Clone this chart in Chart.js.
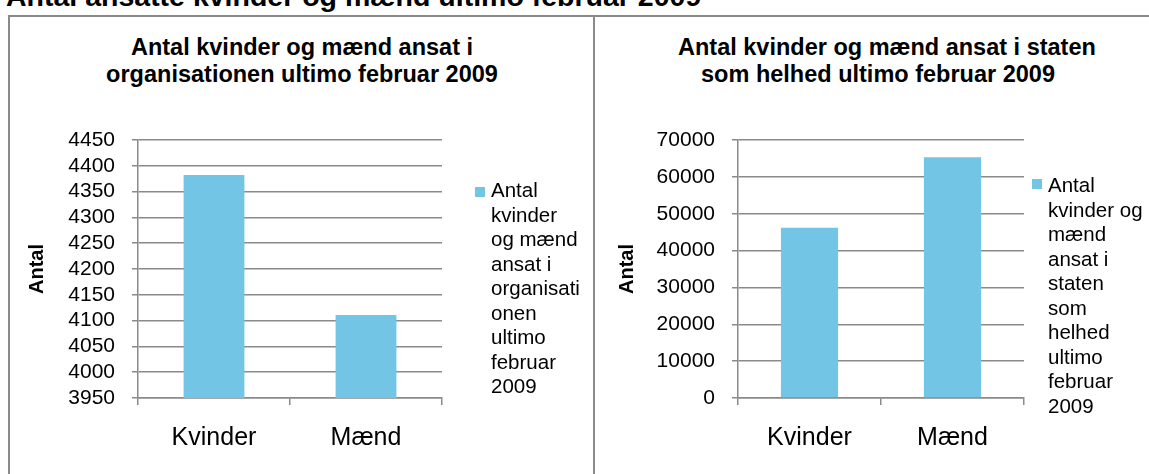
<!DOCTYPE html>
<html>
<head>
<meta charset="utf-8">
<script src="https://cdn.jsdelivr.net/npm/chart.js@4.4.1/dist/chart.umd.min.js"></script>
<style>
  body { margin: 0; width: 1149px; height: 474px; overflow: hidden; position: relative; background: #fff;
         font-family: "Liberation Sans", Arial, sans-serif; color: #000; }
  .abs { position: absolute; }
  .line { position: absolute; background: #8a8a8a; }
  .ctitle { position: absolute; font-weight: bold; font-size: 23.5px; line-height: 27px; text-align: center; white-space: nowrap; }
  .legend { position: absolute; font-size: 20.5px; line-height: 24.5px; white-space: nowrap; }
  .swatch { position: absolute; width: 10px; height: 10px; background: #72c5e5; }
</style>
</head>
<body>
<div id="pageTitle" class="abs" style="left:6px;top:-18px;font-weight:bold;font-size:28.5px;line-height:28.5px;white-space:nowrap">Antal ansatte kvinder og mænd ultimo februar 2009</div>

<div class="line" style="left:9px;top:15px;width:1140px;height:2px"></div>
<div class="line" style="left:8px;top:15px;width:2px;height:459px"></div>
<div class="line" style="left:593px;top:15px;width:2px;height:459px"></div>

<div id="orgTitle" class="ctitle" style="left:102px;width:400px;top:34px"></div>
<div id="stateTitle" class="ctitle" style="left:678px;width:400px;top:34px"></div>

<canvas id="orgChart" class="abs" width="593" height="474" style="left:0;top:0"></canvas>
<canvas id="stateChart" class="abs" width="554" height="474" style="left:595px;top:0"></canvas>

<div class="swatch" style="left:475px;top:187px"></div>
<div id="orgLegend" class="legend" style="left:491px;top:178px"></div>
<div class="swatch" style="left:1032px;top:179px"></div>
<div id="stateLegend" class="legend" style="left:1048px;top:173px"></div>

<script>
const categories = ['Kvinder', 'Mænd'];

const orgTitle = ['Antal kvinder og mænd ansat i', 'organisationen ultimo februar 2009'];
const orgValues = [4382, 4111];
const orgTicks = [3950, 4000, 4050, 4100, 4150, 4200, 4250, 4300, 4350, 4400, 4450];
const orgLegend = ['Antal', 'kvinder', 'og mænd', 'ansat i', 'organisati', 'onen', 'ultimo', 'februar', '2009'];

const stateTitle = ['Antal kvinder og mænd ansat i staten', 'som helhed ultimo februar 2009'];
const stateValues = [46200, 65300];
const stateTicks = [0, 10000, 20000, 30000, 40000, 50000, 60000, 70000];
const stateLegend = ['Antal', 'kvinder og', 'mænd', 'ansat i', 'staten', 'som', 'helhed', 'ultimo', 'februar', '2009'];

const barColor = '#72c5e5';
const gridColor = '#8a8a8a';

document.getElementById('orgTitle').innerHTML = orgTitle.join('<br>');
document.getElementById('stateTitle').innerHTML = stateTitle.join('<br>');
document.getElementById('orgLegend').innerHTML = orgLegend.join('<br>');
document.getElementById('stateLegend').innerHTML = stateLegend.join('<br>');

function makeChart(id, values, ticks, label, padLeft, yWidth, padRight) {
  const ctx = document.getElementById(id);
  return new Chart(ctx, {
    type: 'bar',
    data: {
      labels: categories,
      datasets: [{
        label: label,
        data: values,
        backgroundColor: barColor,
        barPercentage: 0.4,
        categoryPercentage: 1.0
      }]
    },
    options: {
      responsive: false,
      animation: false,
      layout: { padding: { left: padLeft, right: padRight, top: 140, bottom: 16 } },
      plugins: { legend: { display: false }, title: { display: false }, tooltip: { enabled: false } },
      scales: {
        x: {
          afterFit: s => { s.height = 60; },
          grid: { display: true, drawOnChartArea: false, offset: true, color: gridColor, lineWidth: 1.5, tickLength: 7 },
          border: { color: gridColor, width: 1.5 },
          ticks: { color: '#000', padding: 18, font: { family: '"Liberation Sans", Arial', size: 25 } }
        },
        y: {
          min: ticks[0],
          max: ticks[ticks.length - 1],
          afterFit: s => { s.width = yWidth; },
          afterBuildTicks: s => { s.ticks = ticks.map(v => ({ value: v })); },
          grid: { color: gridColor, lineWidth: 1.5, tickLength: 6 },
          border: { color: gridColor, width: 1.5 },
          ticks: { color: '#000', padding: 17, autoSkip: false, callback: v => String(v),
                   font: { family: '"Liberation Sans", Arial', size: 21 } },
          title: { display: true, text: 'Antal', color: '#000', padding: 0,
                   font: { family: '"Liberation Sans", Arial', size: 20, weight: 'bold' } }
        }
      }
    }
  });
}

makeChart('orgChart', orgValues, orgTicks, orgTitle.join(' '), 25, 113, 151);
makeChart('stateChart', stateValues, stateTicks, stateTitle.join(' '), 20, 123, 125);
</script>
</body>
</html>
